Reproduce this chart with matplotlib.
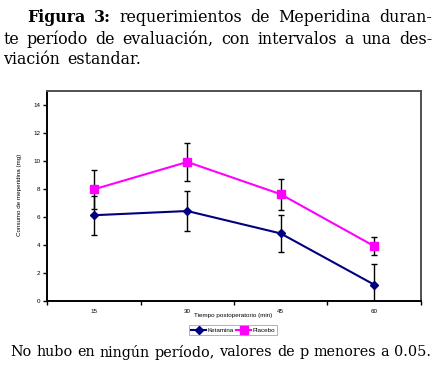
import matplotlib
matplotlib.use("Agg")
import matplotlib.pyplot as plt

# data
tiempos = ["15", "30", "45", "60"]
ketamina = [6.1, 6.4, 4.8, 1.15]
ketamina_sd = [1.4, 1.4, 1.35, 1.45]
placebo = [7.95, 9.9, 7.6, 3.9]
placebo_sd = [1.4, 1.35, 1.1, 0.62]

titulo = [
    ("Figura 3:", "requerimientos de Meperidina duran-"),
    ("", "te período de evaluación, con intervalos a una des-"),
    ("", "viación estandar."),
]
nota = "No hubo en ningún período, valores de p menores a 0.05."

W, H = 441, 366
fig = plt.figure(figsize=(W / 100, H / 100), dpi=100)
ax = fig.add_axes([47.3 / W, 1 - 300.7 / H, (420.7 - 47.3) / W, (300.7 - 90.5) / H])

pos = [i + 0.5 for i in range(len(tiempos))]
ax.errorbar(pos, ketamina, yerr=ketamina_sd, fmt="none", ecolor="black",
            elinewidth=1, capsize=2, capthick=1, zorder=2)
ax.errorbar(pos, placebo, yerr=placebo_sd, fmt="none", ecolor="black",
            elinewidth=1, capsize=2, capthick=1, zorder=2)
ax.plot(pos, ketamina, color="#000080", lw=1.5, marker="D", ms=4.2,
        label="Ketamina", zorder=3)
ax.plot(pos, placebo, color="#FF00FF", lw=1.5, marker="s", ms=6,
        mec="#FF00FF", label="Placebo", zorder=3)

ax.set_xlim(0, 4)
ax.set_ylim(0, 15)
ax.set_yticks(range(0, 15, 2))
ax.set_xticks(range(0, 5))
ax.set_xticklabels([])
ax.set_xticks(pos, minor=True)
ax.set_xticklabels(tiempos, minor=True)
ax.tick_params(axis="x", which="major", length=3, width=1, direction="out")
ax.tick_params(axis="x", which="minor", length=0, pad=6, labelsize=4.5)
ax.tick_params(axis="y", length=3, width=1, direction="out", labelsize=4.5, pad=2)
for lab in ax.get_xticklabels(minor=True) + ax.get_yticklabels():
    lab.set_family("Liberation Sans")

for s in ["left", "bottom"]:
    ax.spines[s].set_color("black")
    ax.spines[s].set_linewidth(1.4)
for s in ["top", "right"]:
    ax.spines[s].set_color("#505050")
    ax.spines[s].set_linewidth(1.4)

fig.text(20 / W, 1 - 195 / H, "Consumo de meperidina (mg)", rotation=90,
         ha="center", va="center", fontsize=4.5, family="Liberation Sans")
fig.text(233 / W, 1 - 316 / H, "Tiempo postoperatorio (min)", ha="center",
         va="center", fontsize=4.5, family="Liberation Sans")

leg = fig.legend(loc="center", bbox_to_anchor=(233 / W, 1 - 330 / H), ncol=2,
                 frameon=True, fancybox=False, edgecolor="#909090",
                 handlelength=2.5, columnspacing=0.3, handletextpad=0.2,
                 borderpad=0.35, prop={"family": "Liberation Sans", "size": 4.5})
leg.get_frame().set_linewidth(0.6)

renderer = fig.canvas.get_renderer()


def justify(words, x0, x1, y, size, bold_first=0):
    # place words between x0 and x1 (pixels), spreading the spaces evenly
    texts = []
    for i, w in enumerate(words):
        t = fig.text(0, 1 - y / H, w, fontsize=size, family="DejaVu Serif",
                     weight="bold" if i < bold_first else "normal", va="center")
        texts.append(t)
    widths = [t.get_window_extent(renderer).width for t in texts]
    gap = (x1 - x0 - sum(widths)) / max(len(words) - 1, 1)
    x = x0
    for t, w in zip(texts, widths):
        t.set_x(x / W)
        x += w + gap


def simple(words, x0, y, size, gap=4.5):
    x = x0
    for w in words:
        t = fig.text(x / W, 1 - y / H, w, fontsize=size, family="DejaVu Serif",
                     va="center")
        x += t.get_window_extent(renderer).width + gap


size = 11.4
justify(titulo[0][0].split() + titulo[0][1].split(), 27, 432, 18, size, bold_first=2)
justify(titulo[1][1].split(), 3, 432, 39.5, size)
simple(titulo[2][1].split(), 3, 60, size, gap=7)
justify(nota.split(), 10, 431, 352, 10.4)

fig.savefig("out.png", dpi=100)
